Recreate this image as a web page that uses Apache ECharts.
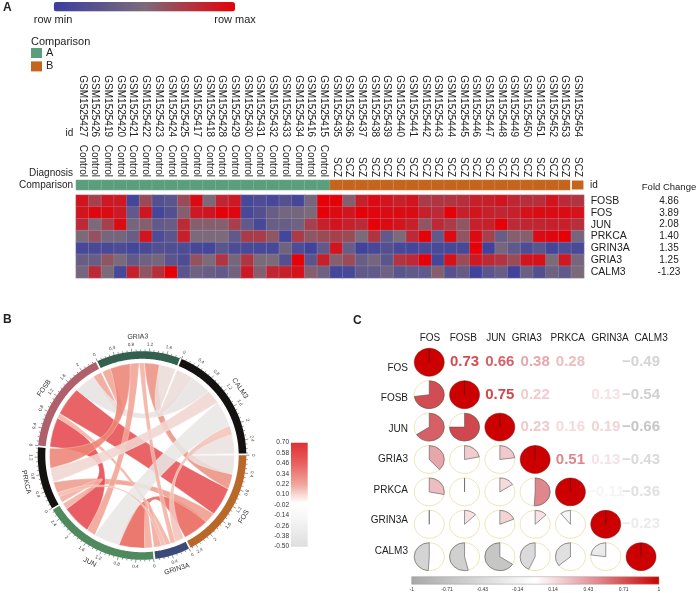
<!DOCTYPE html>
<html>
<head>
<meta charset="utf-8">
<style>html,body{margin:0;padding:0;background:#fff}#c{width:700px;height:593px}</style>
<script src="https://cdn.jsdelivr.net/npm/echarts@6/dist/echarts.min.js"></script>
</head>
<body>
<div id="c"></div>
<script>
// ---- data ----
const sampleIds = ['GSM1525427','GSM1525426','GSM1525419','GSM1525420','GSM1525421','GSM1525422','GSM1525423','GSM1525424','GSM1525425','GSM1525417','GSM1525418','GSM1525428','GSM1525429','GSM1525430','GSM1525431','GSM1525432','GSM1525433','GSM1525434','GSM1525416','GSM1525415','GSM1525435','GSM1525436','GSM1525437','GSM1525438','GSM1525439','GSM1525440','GSM1525441','GSM1525442','GSM1525443','GSM1525444','GSM1525445','GSM1525446','GSM1525447','GSM1525448','GSM1525449','GSM1525450','GSM1525451','GSM1525452','GSM1525453','GSM1525454'];
const diagnosis = ['Control','Control','Control','Control','Control','Control','Control','Control','Control','Control','Control','Control','Control','Control','Control','Control','Control','Control','Control','Control','SCZ','SCZ','SCZ','SCZ','SCZ','SCZ','SCZ','SCZ','SCZ','SCZ','SCZ','SCZ','SCZ','SCZ','SCZ','SCZ','SCZ','SCZ','SCZ','SCZ'];
const comparison = [0,0,0,0,0,0,0,0,0,0,0,0,0,0,0,0,0,0,0,0,1,1,1,1,1,1,1,1,1,1,1,1,1,1,1,1,1,1,1,1];
const heatGenes = ['FOSB','FOS','JUN','PRKCA','GRIN3A','GRIA3','CALM3'];
const foldChanges = ['4.86','3.89','2.08','1.40','1.35','1.25','-1.23'];
const rowFOSB   = [.9,.7,.88,.88,.08,.65,.2,.25,.65,.95,.5,.82,.88,.1,.15,.1,.2,.08,.45,1,1,.55,.85,.95,.9,.85,.9,.72,.75,.75,.78,.85,.85,.9,.82,.78,.78,.9,.8,.75];
const rowFOS    = [.9,.97,.95,.88,.3,.9,.08,.2,.55,.88,.9,1,.97,.1,.2,.35,.45,.45,.5,1,.95,.9,1,.97,.95,.95,.95,.85,.8,1,.85,.9,.85,.82,.85,.92,.95,.95,.95,.92];
const rowJUN    = [.8,.5,.7,.95,.45,.55,.3,.35,.8,.55,.55,.55,.7,.3,.1,.35,.35,.4,.7,.85,.9,.85,.8,1,.95,.9,.85,.6,.8,.72,.6,.85,.85,1,.8,.82,.82,.85,.85,.78];
const rowPRKCA  = [.5,.62,.45,.45,.35,.9,.15,.25,.85,.5,.5,.5,.3,.72,.72,.6,.08,.72,.6,.65,.7,.65,.5,.75,.3,.5,.8,1,.3,.95,.6,.95,.7,.35,.55,.55,.95,.97,1,.45];
const rowGRIN3A = [.1,.12,.12,.15,.08,.12,.2,.18,.15,.1,.08,.25,.15,.12,.1,.1,.42,.15,.05,.3,.9,.35,.05,.1,.2,.1,.08,.12,.12,.1,.1,1,.05,.45,.3,.15,.25,.08,.15,.12];
const rowGRIA3  = [.35,.35,.6,.5,.3,.4,.45,.25,.15,.62,.5,.75,.45,.75,.5,.5,.2,1,.25,.85,.55,.65,.35,.45,.25,.75,.8,1,.08,.92,.65,.88,.8,.75,.65,.9,.92,.5,.88,.45];
const rowCALM3  = [.45,.8,.5,.1,.85,.6,.78,1,.25,.4,.35,.3,.42,.88,.55,.82,.85,.92,.55,.4,.08,.1,.3,.3,.4,.25,.3,.3,.55,.22,.32,.05,.25,.35,.05,.38,.2,.4,.3,.5];
const corrGenes = ['FOS','FOSB','JUN','GRIA3','PRKCA','GRIN3A','CALM3'];
const corrFOS    = [1,.73,.66,.38,.28,0,-.49];
const corrFOSB   = [.73,1,.75,.22,0,.13,-.54];
const corrJUN    = [.66,.75,1,.23,.16,.19,-.66];
const corrGRIA3  = [.38,.22,.23,1,.51,.13,-.43];
const corrPRKCA  = [.28,0,.16,.51,1,-.11,-.36];
const corrGRIN3A = [0,.13,.19,.13,-.11,1,-.23];
const corrCALM3  = [-.49,-.54,-.66,-.43,-.36,-.23,1];
const chordOrder = ['CALM3','FOS','GRIN3A','JUN','PRKCA','FOSB','GRIA3'];
const chordScaleLabels = ['-0.50','-0.38','-0.26','-0.14','-0.02','0.10','0.22','0.34','0.46','0.58','0.70'];
const corrScaleLabels = ['-1','-0.71','-0.43','-0.14','0.14','0.43','0.71','1'];

// ---- styling ----
const FONT = '"Liberation Sans", Arial, sans-serif';
const heatRows = [rowFOSB,rowFOS,rowJUN,rowPRKCA,rowGRIN3A,rowGRIA3,rowCALM3];
const corr = [corrFOS,corrFOSB,corrJUN,corrGRIA3,corrPRKCA,corrGRIN3A,corrCALM3];
const sectorColors = {CALM3:'#141210',FOS:'#b8692a',GRIN3A:'#3b4a78',JUN:'#4e8a5e',PRKCA:'#141210',FOSB:'#b0606a',GRIA3:'#33604f'};
const colXShift = [.7,-1.3,-4,-8.3,-2.7,4.3,10];

function hex(c){return [1,3,5].map(i=>parseInt(c.substr(i,2),16));}
function ramp(stops,v){
  if(v<=stops[0][0]) return stops[0][1];
  for(let i=1;i<stops.length;i++){
    if(v<=stops[i][0]){
      const t=(v-stops[i-1][0])/(stops[i][0]-stops[i-1][0]);
      const a=hex(stops[i-1][1]),b=hex(stops[i][1]);
      return 'rgb('+a.map((x,k)=>Math.round(x+(b[k]-x)*t)).join(',')+')';
    }
  }
  return stops[stops.length-1][1];
}
const linkStops=[[-.7,'#e8e8e8'],[-.5,'#e8e2e0'],[-.36,'#f0d6d0'],[-.2,'#f2bfb2'],[.15,'#f2b0a2'],[.28,'#ee9c8c'],[.5,'#ec8676'],[.66,'#e8675c'],[.75,'#e6484e']];
const corrStops=[[-1,'#a8a8a8'],[0,'#ffffff'],[.5,'#e08a90'],[.75,'#d0484e'],[1,'#cc0000']];

// ---- chord layout (in correlation units along the angle axis) ----
const GAP=.04;
const idxCorr=g=>corrGenes.indexOf(g);
const linkEnds={}, sectors=[];
let cursor=0;
chordOrder.forEach((g,i)=>{
  const n=chordOrder.length, start=cursor;
  linkEnds[g]={};
  for(let k=1;k<n;k++){
    const p=chordOrder[(i-k+n)%n], v=corr[idxCorr(g)][idxCorr(p)];
    if(v===0) continue;
    linkEnds[g][p]=[cursor,cursor+Math.abs(v)];
    cursor+=Math.abs(v);
  }
  sectors.push({name:g,start:start,end:cursor});
  cursor+=GAP;
});
const chordTotal=cursor;
const links=[];
corrGenes.forEach((a,i)=>corrGenes.forEach((b,j)=>{ if(j>i&&corr[i][j]!==0) links.push({a,b,v:corr[i][j]}); }));

const R_OUT=104.3,R_IN=96.7,R_LINK=92.5;
function xy(api,r,v){const p=api.coord([r,v]);return [p[0],p[1]];}
const fmt=p=>p[0].toFixed(2)+' '+p[1].toFixed(2);
function control(c,p,q){
  const mx=(p[0]+q[0])/2-c[0],my=(p[1]+q[1])/2-c[1];
  const k=.5*(1-Math.hypot(mx,my)/R_LINK);
  return [c[0]+mx*k,c[1]+my*k];
}
function linkItem(params,api){
  const l=links[params.dataIndex],A=linkEnds[l.a][l.b],B=linkEnds[l.b][l.a];
  const c=xy(api,0,0);
  const a0=xy(api,R_LINK,A[0]),a1=xy(api,R_LINK,A[1]),b0=xy(api,R_LINK,B[0]),b1=xy(api,R_LINK,B[1]);
  const arc=(to)=>'A'+R_LINK+' '+R_LINK+' 0 0 1 '+fmt(to);
  const d='M'+fmt(a0)+' '+arc(a1)+' Q'+fmt(control(c,a1,b0))+' '+fmt(b0)+' '+arc(b1)+' Q'+fmt(control(c,b1,a0))+' '+fmt(a0)+' Z';
  return {type:'path',shape:{pathData:d},style:{fill:ramp(linkStops,l.v),opacity:.88,stroke:'rgba(255,255,255,.6)',lineWidth:.5}};
}
function sectorItem(params,api){
  const s=sectors[params.dataIndex],kids=[];
  const c=api.coord([0,0]);
  const steps=Math.max(2,Math.ceil((s.end-s.start)*40));
  const pts=[];
  for(let i=0;i<=steps;i++) pts.push(xy(api,R_OUT,s.start+(s.end-s.start)*i/steps));
  for(let i=steps;i>=0;i--) pts.push(xy(api,R_IN,s.start+(s.end-s.start)*i/steps));
  kids.push({type:'polygon',shape:{points:pts},style:{fill:sectorColors[s.name]}});
  const screenAngle=(v)=>{const p=api.coord([R_OUT,v]);return Math.atan2(p[0]-c[0],c[1]-p[1])*180/Math.PI;};
  const placeText=(txt,v,r,size)=>{
    let th=screenAngle(v); if(th<0) th+=360;
    const rot=(th>100&&th<270)?th-180:th;
    const p=api.coord([r,v]);
    kids.push({type:'text',x:p[0],y:p[1],rotation:-rot*Math.PI/180,style:{text:txt,x:0,y:0,fill:'#333',font:size+'px '+FONT,align:'center',verticalAlign:'middle'}});
  };
  const count=Math.floor((s.end-s.start)/.1+1e-6);
  for(let i=0;i<=count;i++){
    const v=s.start+i*.1,major=i%4===0;
    const a=api.coord([R_OUT,v]),b=api.coord([R_OUT+(major?3.2:1.7),v]);
    kids.push({type:'line',shape:{x1:a[0],y1:a[1],x2:b[0],y2:b[1]},style:{stroke:'#333',lineWidth:.5}});
    if(major) placeText(String(Math.round(i)/10),v,R_OUT+7,4.5);
  }
  placeText(s.name,(s.start+s.end)/2,R_OUT+14.5,7);
  return {type:'group',children:kids};
}
function ellipseSector(cx,cy,rx,ry,val){
  const ang=2*Math.PI*Math.abs(val),sgn=val<0?-1:1;
  const ex=cx+rx*Math.sin(ang)*sgn,ey=cy-ry*Math.cos(ang);
  if(val===0) return 'M'+cx+' '+cy+' L'+cx+' '+(cy-ry)+' Z';
  return 'M'+cx+' '+cy+' L'+cx+' '+(cy-ry)+' A'+rx+' '+ry+' 0 '+(Math.abs(val)>.5?1:0)+' '+(val<0?0:1)+' '+ex+' '+ey+' Z';
}
function corrItem(params,api){
  const col=api.value(0),row=api.value(1),val=api.value(2);
  const p=api.coord([col,row]),sz=api.size([1,1]);
  const rx=sz[0]*.425,ry=sz[1]*.43;
  if(col>row){
    const txt=(val===0)?'':(val<0?'\u2212':'')+Math.abs(val).toFixed(2);
    return {type:'text',x:p[0],y:p[1],style:{text:txt,x:0,y:0,fill:ramp(corrStops,val),font:'bold 15px '+FONT,align:'center',verticalAlign:'middle'}};
  }
  if(col===row){
    return {type:'group',children:[
      {type:'ellipse',shape:{cx:p[0],cy:p[1],rx:rx,ry:ry},style:{fill:'#cc0000',stroke:'#7a1a1a',lineWidth:.5}},
      {type:'line',shape:{x1:p[0],y1:p[1],x2:p[0],y2:p[1]-ry},style:{stroke:'#5a1010',lineWidth:.7}}
    ]};
  }
  return {type:'group',children:[
    {type:'ellipse',shape:{cx:p[0],cy:p[1],rx:rx,ry:ry},style:{fill:'#fff',stroke:'#e6dfa6',lineWidth:.8}},
    {type:'path',shape:{pathData:ellipseSector(p[0],p[1],rx,ry,val)},style:{fill:ramp(corrStops,val),stroke:'#555',lineWidth:.6}}
  ]};
}

const corrData=[];
corr.forEach((r,i)=>r.forEach((v,j)=>corrData.push([j,i,v])));
const heatData=[];
heatRows.forEach((r,i)=>r.forEach((v,j)=>heatData.push([j,i,v])));
const stripData=comparison.map((v,i)=>{
  const d={value:[i,0,v]};
  if(i===39) d.itemStyle={borderColor:'#fff',borderWidth:1.6};
  return d;
});
const text=(t,x,y,opt)=>({type:'text',x:x,y:y,style:Object.assign({text:t,fill:'#222',font:'10px '+FONT,align:'left',verticalAlign:'middle'},opt||{})});
const hiddenAxis=(o)=>Object.assign({axisLine:{show:false},axisTick:{show:false},axisLabel:{show:false},splitLine:{show:false}},o);

const option={
  animation:false,
  backgroundColor:'#fff',
  textStyle:{fontFamily:FONT},
  grid:[
    {left:76,top:180,width:508,height:10},
    {left:76,top:195,width:508,height:83},
    {left:411.6,top:346.1,width:247.1,height:226.8},
    {left:291,top:442.7,width:16.7,height:104,show:true,borderWidth:0,
      backgroundColor:{type:'linear',x:0,y:0,x2:0,y2:1,colorStops:[{offset:0,color:'#e03035'},{offset:.2,color:'#e8605f'},{offset:.4,color:'#f0a69c'},{offset:.58,color:'#ffffff'},{offset:.7,color:'#f8f8f8'},{offset:1,color:'#dedede'}]}},
    {left:411.7,top:576.7,width:247.3,height:7.5,show:true,borderWidth:.5,borderColor:'#999',
      backgroundColor:{type:'linear',x:0,y:0,x2:1,y2:0,colorStops:[{offset:0,color:'#a8a8a8'},{offset:.5,color:'#ffffff'},{offset:.75,color:'#e08a90'},{offset:1,color:'#cc0000'}]}},
    {left:411.6,top:352.75,width:247.1,height:213.5}
  ],
  xAxis:[
    {gridIndex:0,type:'category',position:'top',data:diagnosis,axisLine:{show:false},axisTick:{show:false},axisLabel:{interval:0,rotate:90,fontSize:10,color:'#222',margin:3}},
    {gridIndex:0,type:'category',position:'top',offset:40,data:sampleIds,axisLine:{show:false},axisTick:{show:false},axisLabel:{interval:0,rotate:90,fontSize:10,color:'#222',margin:3}},
    hiddenAxis({gridIndex:1,type:'category',data:sampleIds}),
    {gridIndex:2,type:'category',position:'top',
      data:corrGenes.map((g,i)=>({value:g,textStyle:{padding:[0,colXShift[i]<0?-2*colXShift[i]:0,0,colXShift[i]>0?2*colXShift[i]:0]}})),
      axisLine:{show:false},axisTick:{show:false},axisLabel:{interval:0,fontSize:10,color:'#222',margin:3}},
    hiddenAxis({gridIndex:3,type:'category',data:['scale']}),
    {gridIndex:4,type:'category',boundaryGap:false,position:'bottom',data:corrScaleLabels,axisLine:{show:false},axisTick:{length:2,lineStyle:{color:'#888',width:.5}},axisLabel:{interval:0,fontSize:5,color:'#333',margin:3}},
    hiddenAxis({gridIndex:5,type:'category',data:corrGenes})
  ],
  yAxis:[
    {gridIndex:0,type:'category',position:'left',data:['Comparison'],axisLine:{show:false},axisTick:{show:false},axisLabel:{interval:0,fontSize:10,color:'#222',margin:3}},
    {gridIndex:0,type:'category',position:'right',data:['id'],axisLine:{show:false},axisTick:{show:false},axisLabel:{interval:0,fontSize:10,color:'#222',margin:6}},
    {gridIndex:1,type:'category',position:'right',inverse:true,data:heatGenes,axisLine:{show:false},axisTick:{show:false},axisLabel:{interval:0,fontSize:10.5,color:'#222',margin:6.7}},
    {gridIndex:1,type:'category',position:'right',offset:85,inverse:true,data:foldChanges,axisLine:{show:false},axisTick:{show:false},axisLabel:{interval:0,fontSize:10,color:'#222',margin:0,align:'center'}},
    hiddenAxis({gridIndex:2,type:'category',inverse:true,data:corrGenes}),
    {gridIndex:3,type:'category',boundaryGap:false,position:'left',data:chordScaleLabels,axisLine:{show:false},axisTick:{length:5,lineStyle:{color:'#888',width:.6}},axisLabel:{interval:0,fontSize:6.5,color:'#333',margin:2}},
    hiddenAxis({gridIndex:4,type:'category',data:['scale']}),
    {gridIndex:5,type:'category',position:'left',inverse:true,data:corrGenes,axisLine:{show:false},axisTick:{show:false},axisLabel:{interval:0,fontSize:10,color:'#222',margin:3.6}}
  ],
  polar:{center:[142,455.5],radius:[0,R_OUT]},
  angleAxis:{show:false,type:'value',min:0,max:chordTotal,startAngle:67.7},
  radiusAxis:{show:false,type:'value',min:0,max:R_OUT},
  visualMap:[
    {type:'piecewise',seriesIndex:0,dimension:2,orient:'vertical',inverse:true,left:31,top:47.5,itemWidth:11,itemHeight:10,itemGap:2.4,itemSymbol:'rect',hoverLink:false,selectedMode:false,padding:0,
      textStyle:{fontSize:11,color:'#222'},textGap:4,
      pieces:[{value:0,label:'A',color:'#5a9e7c'},{value:1,label:'B',color:'#c5641c'}]},
    {type:'continuous',seriesIndex:1,dimension:2,min:0,max:1,orient:'horizontal',left:53.7,top:2,itemWidth:9.5,itemHeight:181.3,padding:0,calculable:false,realtime:false,hoverLink:false,
      inRange:{color:['#3a3f9f','#7b6a7a','#e60008']}}
  ],
  series:[
    {type:'heatmap',xAxisIndex:0,yAxisIndex:0,data:stripData,itemStyle:{borderColor:'rgba(255,255,255,.3)',borderWidth:.5},silent:true},
    {type:'heatmap',xAxisIndex:2,yAxisIndex:2,data:heatData,itemStyle:{borderColor:'rgba(175,175,195,.55)',borderWidth:.5},silent:true},
    {type:'custom',coordinateSystem:'polar',data:links.map((l,i)=>[R_LINK,i]),renderItem:linkItem,silent:true},
    {type:'custom',coordinateSystem:'polar',data:sectors.map(s=>[R_OUT,s.start]),renderItem:sectorItem,silent:true},
    {type:'custom',xAxisIndex:3,yAxisIndex:4,data:corrData,renderItem:corrItem,silent:true}
  ],
  graphic:[
    text('A',3,8,{font:'bold 12px '+FONT}),
    text('B',3,320,{font:'bold 12px '+FONT}),
    text('C',353,320.5,{font:'bold 12px '+FONT}),
    text('row min',53,20,{align:'center',font:'11px '+FONT}),
    text('row max',235,20,{align:'center',font:'11px '+FONT}),
    text('Comparison',31,41.5,{font:'11px '+FONT}),
    text('id',65.5,133,{}),
    text('Diagnosis',73,173,{align:'right'}),
    text('Fold Change',669,187,{align:'center',font:'9.5px '+FONT})
  ]
};
const chart=echarts.init(document.getElementById('c'),null,{renderer:'canvas'});
chart.setOption(option);
</script>
</body>
</html>
